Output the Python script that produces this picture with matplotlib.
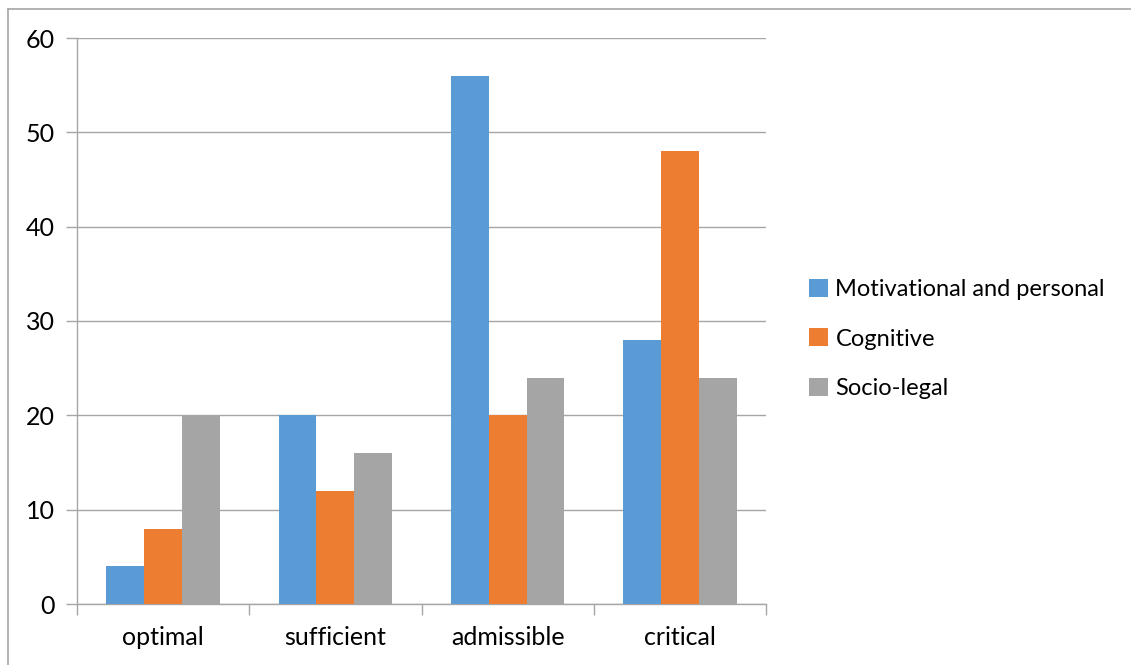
import numpy as np
import matplotlib.pyplot as plt
from matplotlib.patches import Patch
from matplotlib.lines import Line2D

# data
categories = ['optimal', 'sufficient', 'admissible', 'critical']
series_names = ['Motivational and personal', 'Cognitive', 'Socio-legal']
motivational = [4, 20, 56, 28]
cognitive = [8, 12, 20, 48]
socio_legal = [20, 16, 24, 24]
colors = ['#5B9BD5', '#ED7D31', '#A5A5A5']

plt.rcParams['font.family'] = ['Lato', 'DejaVu Sans']

W, H = 1131, 665
fig = plt.figure(figsize=(W / 100, H / 100), dpi=100)
ax = fig.add_axes([77 / W, 1 - 604 / H, (766 - 77) / W, (604 - 38) / H])

x = np.arange(len(categories))
bw = 0.22
for i, vals in enumerate([motivational, cognitive, socio_legal]):
    ax.bar(x + (i - 1) * bw, vals, width=bw, color=colors[i], zorder=3)

ax.set_xlim(-0.5, len(categories) - 0.5)
ax.set_ylim(0, 60)
ax.set_yticks(range(0, 61, 10))
ax.yaxis.grid(True, color='#A6A6A6', linewidth=1.0, zorder=0)

ax.set_xticks(x)
ax.set_xticklabels(categories)
ax.set_xticks(np.arange(-0.5, len(categories)), minor=True)
ax.tick_params(axis='x', which='major', length=0, pad=16, labelsize=18)
ax.tick_params(axis='x', which='minor', length=8, color='#A6A6A6', width=1.0)
ax.tick_params(axis='y', length=8, color='#A6A6A6', width=1.0, pad=8, labelsize=18)

for s in ['top', 'right']:
    ax.spines[s].set_visible(False)
for s in ['left', 'bottom']:
    ax.spines[s].set_color('#A6A6A6')
    ax.spines[s].set_linewidth(1.0)

handles = [Patch(facecolor=c, label=n) for c, n in zip(colors, series_names)]
fig.legend(handles=handles, loc='center left', bbox_to_anchor=(800 / W, 1 - 339 / H),
           frameon=False, fontsize=17, handlelength=0.8, handleheight=0.8,
           handletextpad=0.3, labelspacing=1.2, borderaxespad=0)

# outer chart border (left and top visible)
fig.add_artist(Line2D([8 / W, 8 / W], [0, 1 - 9 / H], color='#A6A6A6', lw=1.2, transform=fig.transFigure))
fig.add_artist(Line2D([8 / W, 1], [1 - 9 / H, 1 - 9 / H], color='#A6A6A6', lw=1.2, transform=fig.transFigure))

fig.savefig('out.png', dpi=100)
